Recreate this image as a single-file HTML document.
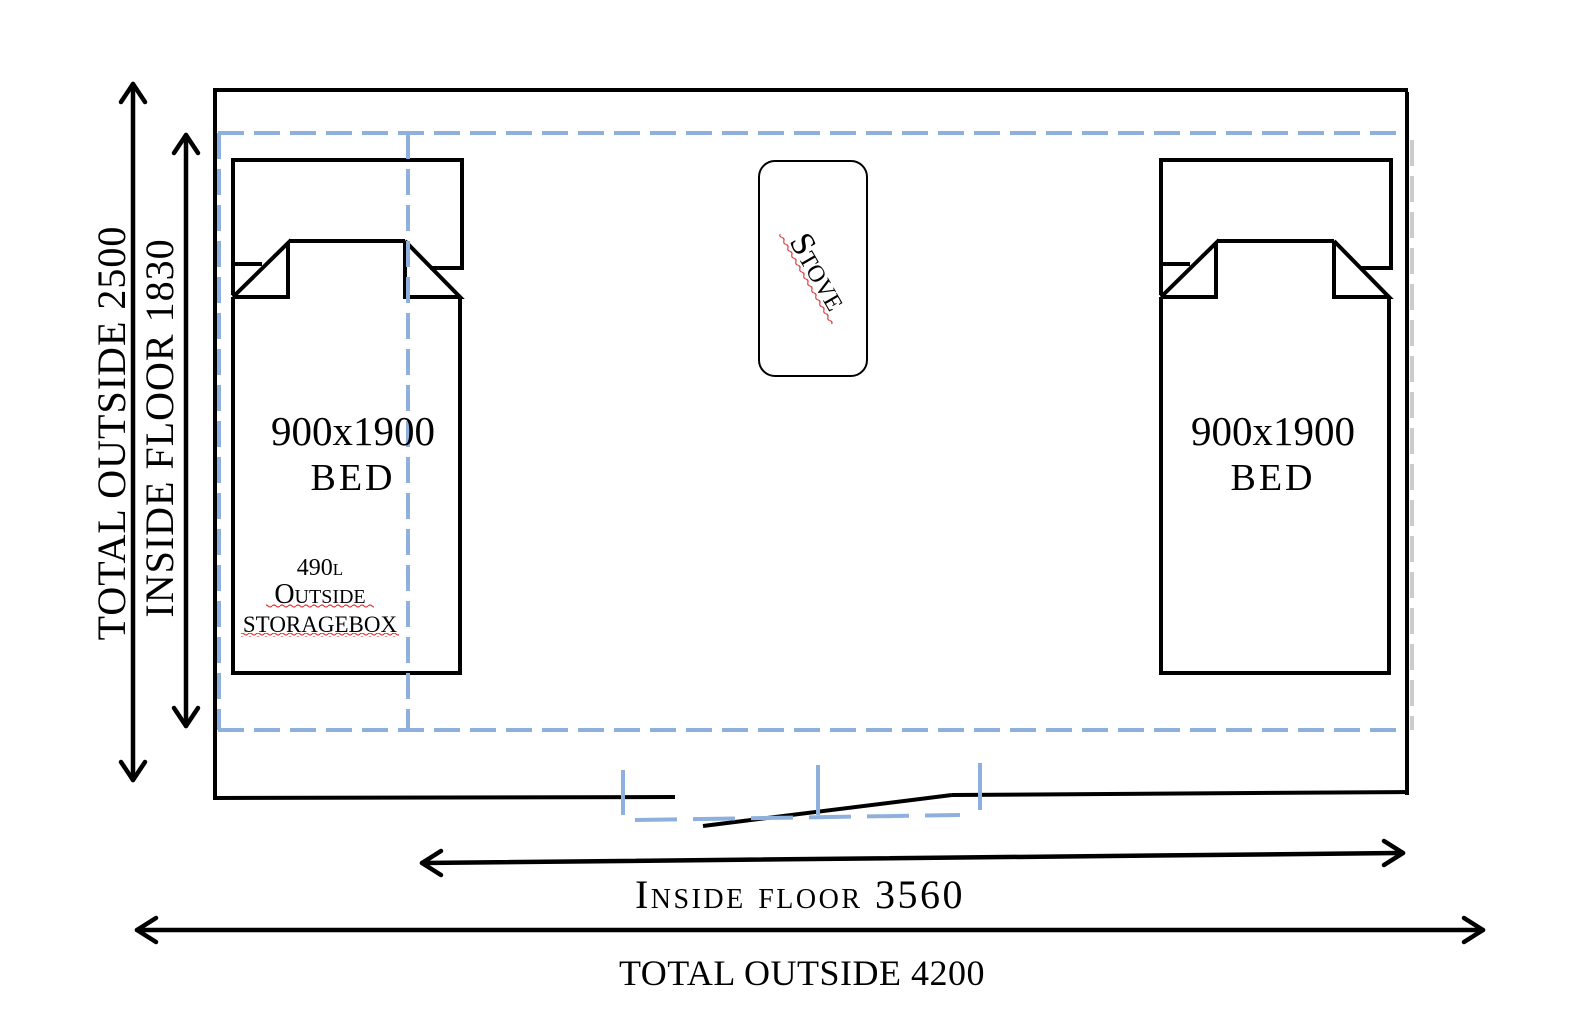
<!DOCTYPE html>
<html><head><meta charset="utf-8"><style>
html,body{margin:0;padding:0;background:#fff;}
svg{display:block;}
text{font-family:"Liberation Serif",serif;fill:#000;}
</style></head><body>
<svg width="1578" height="1018" viewBox="0 0 1578 1018" xmlns="http://www.w3.org/2000/svg">
<defs>
<pattern id="wv" width="8" height="4" patternUnits="userSpaceOnUse"><path d="M0 2 Q2 0 4 2 T8 2" stroke="#d33" stroke-width="1.2" fill="none"/></pattern>
</defs>
<g stroke="#000" stroke-width="4" fill="none">
<line x1="213" y1="90" x2="1408" y2="90"/>
<line x1="215" y1="88" x2="215" y2="800"/>
<line x1="1407" y1="92" x2="1407" y2="795"/>
<line x1="213" y1="798" x2="675" y2="797"/>
<line x1="703" y1="826" x2="952" y2="795"/>
<line x1="952" y1="795" x2="1409" y2="792"/>
<polyline points="233,295 233,160 462,160 462,268 430,268"/>
<polyline points="233,264 262,264"/>
<line x1="290" y1="241" x2="405" y2="241"/>
<polyline points="233,297 288,243 288,297 233,297"/>
<polyline points="405,241 405,297 460,297 405,241"/>
<polyline points="233,297 233,673 460,673 460,297"/>
<polyline points="1161,295 1161,160 1391,160 1391,268 1360,268"/>
<polyline points="1161,264 1190,264"/>
<line x1="1218" y1="241" x2="1334" y2="241"/>
<polyline points="1161,297 1216,243 1216,297 1161,297"/>
<polyline points="1334,241 1334,297 1389,297 1334,241"/>
<polyline points="1161,297 1161,673 1389,673 1389,297"/>
</g>
<rect x="759" y="161" width="108" height="215" rx="16" fill="none" stroke="#000" stroke-width="2"/>
<g stroke="#8fb0dd" stroke-width="4" fill="none" stroke-dasharray="26,10">
<line x1="218" y1="133" x2="1405" y2="133"/>
<line x1="218" y1="730" x2="1405" y2="730"/>
<line x1="219" y1="133" x2="219" y2="730"/>
<line x1="408" y1="133" x2="408" y2="730"/>
<line x1="1412" y1="140" x2="1412" y2="730" stroke="#ccc"/>
</g>
<g stroke="#8fb0dd" stroke-width="4" fill="none">
<line x1="623" y1="770" x2="623" y2="815"/>
<line x1="818" y1="765" x2="818" y2="815"/>
<line x1="980" y1="763" x2="980" y2="810"/>
<line x1="635" y1="820" x2="960" y2="815" stroke-dasharray="42,16"/>
</g>
<g stroke="#000" stroke-width="4.5" fill="none" stroke-linecap="round" stroke-linejoin="round">
<line x1="133" y1="84" x2="133" y2="780"/>
<polyline points="121,102 133,84 145,102"/><polyline points="121,762 133,780 145,762"/>
<line x1="186" y1="135" x2="186" y2="726"/>
<polyline points="174,153 186,135 198,153"/><polyline points="174,708 186,726 198,708"/>
<line x1="422" y1="863" x2="1403" y2="853"/>
<polyline points="441,851 422,863 441,875"/><polyline points="1384,841 1403,853 1384,865"/>
<line x1="137" y1="930" x2="1483" y2="930"/>
<polyline points="156,918 137,930 156,942"/><polyline points="1464,918 1483,930 1464,942"/>
</g>
<text transform="translate(125,433) rotate(-90)" text-anchor="middle" font-size="40" letter-spacing="1">TOTAL OUTSIDE 2500</text>
<text transform="translate(173,428) rotate(-90)" text-anchor="middle" font-size="40" letter-spacing="1">INSIDE FLOOR 1830</text>
<text x="800" y="908" text-anchor="middle" font-size="40" style="font-variant:small-caps" letter-spacing="2.5">Inside floor 3560</text>
<text x="802" y="985" text-anchor="middle" font-size="36" letter-spacing="0.5">TOTAL OUTSIDE 4200</text>
<text x="353" y="445" text-anchor="middle" font-size="41">900x1900</text>
<text x="353" y="490" text-anchor="middle" font-size="38" letter-spacing="3">BED</text>
<text x="1273" y="445" text-anchor="middle" font-size="41">900x1900</text>
<text x="1273" y="490" text-anchor="middle" font-size="38" letter-spacing="3">BED</text>
<text x="320" y="575" text-anchor="middle" font-size="24" style="font-variant:small-caps">490l</text>
<text x="320" y="603" text-anchor="middle" font-size="28" style="font-variant:small-caps">Outside</text>
<text x="320" y="632" text-anchor="middle" font-size="23">STORAGEBOX</text>
<rect x="266" y="604" width="108" height="4" fill="url(#wv)"/>
<rect x="241" y="633" width="158" height="4" fill="url(#wv)"/>
<g transform="translate(818,272) rotate(60)">
<text x="0" y="10" text-anchor="middle" font-size="34" style="font-variant:small-caps">Stove</text>
<rect x="-52" y="12" width="104" height="4" fill="url(#wv)"/>
</g>
</svg>
</body></html>
